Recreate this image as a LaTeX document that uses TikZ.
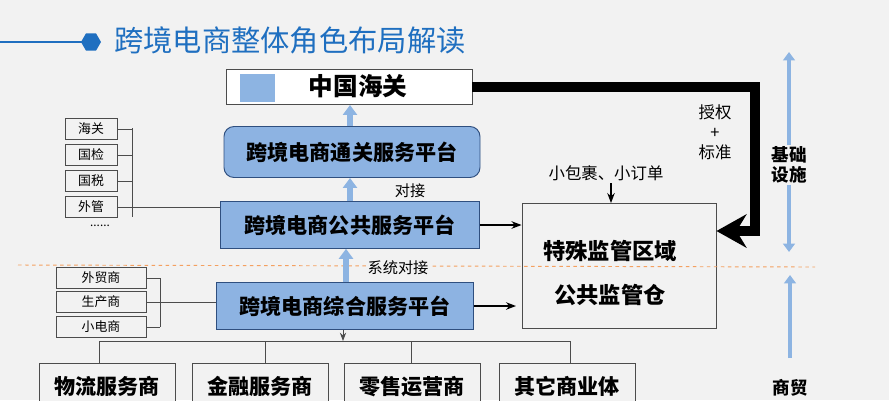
\documentclass[tikz,border=0pt]{standalone}
\usepackage{fontspec}
\setmainfont{Noto Sans CJK SC}
\usetikzlibrary{shapes.geometric, arrows.meta, positioning}
\definecolor{bg}{HTML}{F2F2F2}
\definecolor{titleblue}{HTML}{1F6FC0}
\definecolor{platblue}{HTML}{8DB3E2}
\definecolor{platline}{HTML}{2F4F7F}
\definecolor{lightarrow}{HTML}{8DB4E2}
\definecolor{dashorange}{HTML}{F4A060}

\begin{document}
\begin{tikzpicture}[x=0.3mm, y=-0.3mm]
\tikzstyle{plat} = [rectangle, draw=platline, thick, fill=platblue, minimum height=14mm, font=\fontsize{18}{20}\selectfont\bfseries, inner sep=0pt]
\tikzstyle{small} = [rectangle, draw=black!70, thick, fill=bg, minimum height=6.3mm, inner sep=0pt, font=\fontsize{11}{13}\selectfont]
\tikzstyle{biz} = [rectangle, draw=black!70, thick, fill=bg, minimum width=40.8mm, minimum height=14mm, inner sep=0pt, font=\fontsize{18}{20}\selectfont\bfseries]
\tikzstyle{fat} = [draw=lightarrow, line width=2mm, -{Triangle[width=4.2mm, length=3mm]}]
\tikzstyle{line} = [draw=black!70, thick]
\tikzstyle{arr} = [draw, line width=1.3pt, -{Stealth[length=3mm]}]

\fill[bg] (0,0) rectangle (889,400);
\useasboundingbox (0,0) rectangle (889,400);

% title
\draw[titleblue, line width=1.2pt] (0,42) -- (85,42);
\node[regular polygon, regular polygon sides=6, fill=titleblue, minimum size=6mm, inner sep=0pt] (hex) at (91,42) {};
\node[anchor=west, text=titleblue, font=\fontsize{25}{28}\selectfont] (title) at (110,40) {跨境电商整体角色布局解读};

% customs and platforms
\node[rectangle, draw=black!70, thick, fill=white, minimum width=73.8mm, minimum height=10.5mm] (cust) at (349,87) {};
\node[font=\fontsize{21}{23}\selectfont\bfseries] (custtxt) at (358,86) {中国海关};
\node[rectangle, fill=lightarrow, minimum width=10.5mm, minimum height=8.5mm, inner sep=0pt] (icon) at (257,88) {};
\node[rounded corners=3mm, plat, minimum width=76.8mm, minimum height=15.3mm] (clear) at (352,152) {跨境电商通关服务平台};
\node[plat, minimum width=77.7mm] (pub) at (350,225) {跨境电商公共服务平台};
\node[plat, minimum width=77.1mm] (comp) at (345,306) {跨境电商综合服务平台};
\node[rectangle, draw=black!70, thick, fill=bg, minimum width=58.2mm, minimum height=37.5mm] (zone) at (619,266) {};
\node[font=\fontsize{19}{21}\selectfont\bfseries] (zonea) at (610,251) {特殊监管区域};
\node[font=\fontsize{19}{21}\selectfont\bfseries] (zoneb) at (610,295) {公共监管仓};

\draw[fat] (clear.north -| 350,0) -- (cust.south -| 350,0);
\draw[fat] (pub.north -| 350,0) -- (clear.south -| 350,0);
\node[font=\fontsize{13}{15}\selectfont] (dj) at (410,191) {对接};

% divider
\draw[dashorange, dashed, thick] (18,265) -- (815,267);
\draw[fat] (comp.north -| 346,0) -- (pub.south -| 346,0);
\node[font=\fontsize{13}{15}\selectfont, fill=bg, inner sep=1pt] (xt) at (398,268) {系统对接};

% left groups
\node[small, minimum width=15.6mm] (hg) at (91,129) {海关};
\node[small, minimum width=15.6mm] (gj) at (91,155) {国检};
\node[small, minimum width=15.6mm] (gs) at (91,181) {国税};
\node[small, minimum width=15.6mm] (wg) at (91,207) {外管};
\node (dots) at (100,226) {......};
\coordinate (b1top) at (132,128);
\coordinate (b1bot) at (132,217);
\draw[line] (b1top) -- (b1bot);
\foreach \n in {hg,gj,gs,wg} \draw[line] (\n.east) -- (\n.east -| b1top);
\draw[line] (wg.east -| b1top) -- (wg.east -| pub.west);

\node[small, minimum width=27mm] (wms) at (101,278) {外贸商};
\node[small, minimum width=27mm] (scs) at (101,302) {生产商};
\node[small, minimum width=27mm] (xds) at (101,327) {小电商};
\coordinate (b2top) at (160,278);
\coordinate (b2bot) at (160,327);
\draw[line] (b2top) -- (b2bot);
\foreach \n in {wms,scs,xds} \draw[line] (\n.east) -- (\n.east -| b2top);
\draw[line] (scs.east -| b2top) -- (scs.east -| comp.west);

% bottom businesses
\node[biz, anchor=north] (wl) at (107,363) {物流服务商};
\node[biz, anchor=north] (jr) at (260,363) {金融服务商};
\node[biz, anchor=north] (ls) at (412,363) {零售运营商};
\node[biz, anchor=north] (qt) at (567,363) {其它商业体};
\coordinate (bus) at (343,341);
\draw[line] (wl.north -| 99,0) |- (bus) -| (qt.north -| 570,0);
\draw[line] (jr.north -| 265,0) -- (265,341);
\draw[line] (ls.north -| 411,0) -- (411,341);
\draw[line, -{Stealth[length=2.5mm]}] (comp.south -| bus) -- (bus);

% arrows to zone
\draw[arr] (pub.east) -- (pub.east -| zone.west);
\draw[arr] (comp.east) -- (516,306);
\node[font=\fontsize{14}{16}\selectfont] (pkg) at (606,173) {小包裹、小订单};
\draw[arr, line width=1pt] (611,183) -- (zone.north -| 611,0);
\draw[line width=3mm, -{Stealth[length=9mm, width=10mm, inset=3mm]}] (cust.east) -- (755,87) -- (755,231) -- (zone.east |- 0,231);
\node[align=center, font=\fontsize{14}{17}\selectfont] (auth) at (715,132) {授权\\+\\标准};

% right side
\node[font=\fontsize{15}{17}\selectfont\bfseries, align=center, fill=bg, inner sep=1pt] (infra) at (789,165) {基础\\设施};
\draw[lightarrow, line width=1.3mm, {Triangle[width=3.5mm,length=2.5mm]}-] (789,52) -- (infra.north);
\draw[lightarrow, line width=1.3mm, -{Triangle[width=3.5mm,length=2.5mm]}] (infra.south) -- (789,252);
\node[font=\fontsize{15}{17}\selectfont\bfseries] (trade) at (790,388) {商贸};
\draw[lightarrow, line width=1.3mm, -{Triangle[width=3.5mm,length=2.5mm]}] (790,358) -- (790,275);

\end{tikzpicture}
\end{document}
